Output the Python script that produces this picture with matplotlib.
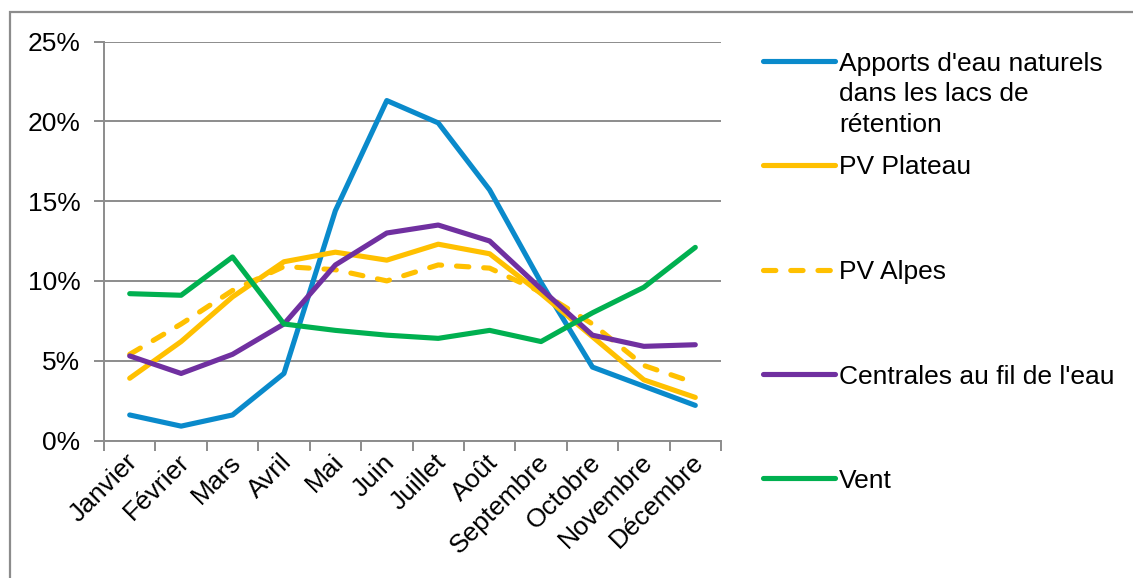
import matplotlib
matplotlib.use("Agg")
import matplotlib.pyplot as plt
from matplotlib.lines import Line2D
from matplotlib.patches import Rectangle
from matplotlib.ticker import FixedLocator, FuncFormatter
from matplotlib.transforms import ScaledTranslation

plt.rcParams['font.family'] = ['Liberation Sans', 'DejaVu Sans']

months = ["Janvier", "Février", "Mars", "Avril", "Mai", "Juin", "Juillet",
          "Août", "Septembre", "Octobre", "Novembre", "Décembre"]

apports_lacs = [1.6, 0.9, 1.6, 4.2, 14.4, 21.3, 19.9, 15.7, 9.9, 4.6, 3.4, 2.2]
pv_plateau = [3.9, 6.2, 9.0, 11.2, 11.8, 11.3, 12.3, 11.7, 9.2, 6.5, 3.8, 2.7]
pv_alpes = [5.4, 7.3, 9.4, 10.9, 10.7, 10.0, 11.0, 10.8, 9.3, 7.3, 4.7, 3.6]
fil_eau = [5.3, 4.2, 5.4, 7.3, 11.0, 13.0, 13.5, 12.5, 9.5, 6.6, 5.9, 6.0]
vent = [9.2, 9.1, 11.5, 7.3, 6.9, 6.6, 6.4, 6.9, 6.2, 8.0, 9.6, 12.1]

series = [
    (["Apports d'eau naturels", "dans les lacs de", "rétention"], apports_lacs, "#0A8ACB", "-"),
    (["PV Plateau"], pv_plateau, "#FFC000", "-"),
    (["PV Alpes"], pv_alpes, "#FFC000", "--"),
    (["Centrales au fil de l'eau"], fil_eau, "#7030A0", "-"),
    (["Vent"], vent, "#00B050", "-"),
]

W, H = 1133, 578
FS = 19
fig = plt.figure(figsize=(W / 100, H / 100), dpi=100)

# chart-area frame
fig.patches.append(Rectangle((10.5 / W, -0.1), 1.2, 1 - 12 / H + 0.1,
                             transform=fig.transFigure, fill=False,
                             edgecolor="#8C8C8C", linewidth=1.6))

ax_l, ax_r, ax_t, ax_b = 104, 721, 41.5, 440.5
ax = fig.add_axes([ax_l / W, 1 - ax_b / H, (ax_r - ax_l) / W, (ax_b - ax_t) / H])

x = list(range(len(months)))
lw = 3.7
dash = (2.4, 2.9)
for label, vals, color, ls in series:
    if ls == "--":
        ax.plot(x, vals, color=color, lw=lw, dashes=dash,
                dash_capstyle="round", solid_joinstyle="round")
    else:
        ax.plot(x, vals, color=color, lw=lw, solid_capstyle="round",
                solid_joinstyle="round")

ax.set_xlim(-0.5, len(months) - 0.5)
ax.set_ylim(0, 25)

# gridlines and axes
ax.yaxis.set_major_locator(FixedLocator([0, 5, 10, 15, 20, 25]))
ax.yaxis.set_major_formatter(FuncFormatter(lambda v, p: f"{v:.0f}%"))
ax.grid(axis="y", color="#8C8C8C", linewidth=1.4)
ax.set_axisbelow(True)
for side in ("top", "right"):
    ax.spines[side].set_visible(False)
for side in ("left", "bottom"):
    ax.spines[side].set_color("#8C8C8C")
    ax.spines[side].set_linewidth(1.4)

ax.tick_params(axis="y", length=7, width=1.4, color="#8C8C8C", pad=10,
               labelsize=FS, labelcolor="black")

ax.xaxis.set_major_locator(FixedLocator(x))
ax.xaxis.set_minor_locator(FixedLocator([i - 0.5 for i in range(len(months) + 1)]))
ax.tick_params(axis="x", which="major", length=0, pad=6)
ax.tick_params(axis="x", which="minor", length=7, width=1.4, color="#8C8C8C")
ax.set_xticklabels(months, rotation=45, ha="right", va="top",
                   rotation_mode="anchor", fontsize=FS)
shift = ScaledTranslation(-4 / 100, -1 / 100, fig.dpi_scale_trans)
for lbl in ax.get_xticklabels():
    lbl.set_transform(lbl.get_transform() + shift)

# legend, drawn entry by entry
leg_x0, leg_x1, txt_x = 763, 835, 839
leg_y = [61, 165, 270, 374, 478]
line_gap = 30.5
for (lines, vals, color, ls), yy in zip(series, leg_y):
    yf = 1 - yy / H
    if ls == "--":
        ln = Line2D([leg_x0 / W, leg_x1 / W], [yf, yf], transform=fig.transFigure,
                    color=color, lw=lw, dashes=dash, dash_capstyle="round")
    else:
        ln = Line2D([leg_x0 / W, leg_x1 / W], [yf, yf], transform=fig.transFigure,
                    color=color, lw=lw, solid_capstyle="round")
    fig.lines.append(ln)
    for k, txt in enumerate(lines):
        base = yy + 9.5 + k * line_gap
        fig.text(txt_x / W, 1 - base / H, txt, fontsize=FS, va="baseline",
                 ha="left", color="black")

fig.savefig("out.png", dpi=100)
